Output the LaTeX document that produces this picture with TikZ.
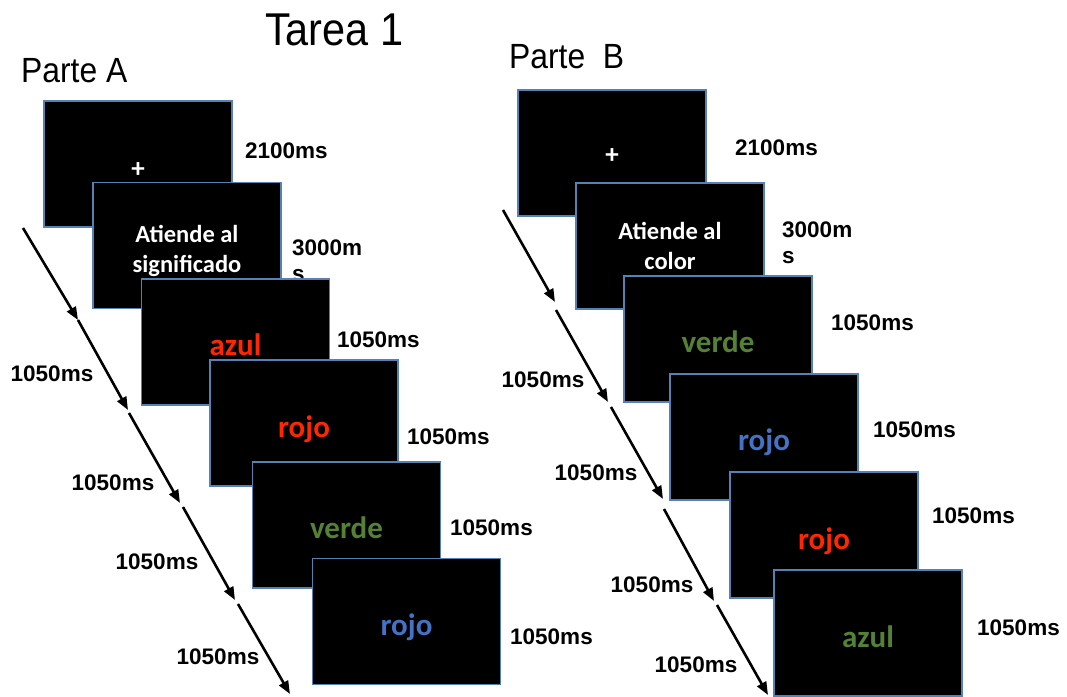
\documentclass[tikz,border=0pt]{standalone}
\usepackage{fontspec}
\setmainfont{Liberation Sans}
\newfontfamily\carl{Carlito}
\usetikzlibrary{arrows.meta}
\definecolor{boxblue}{RGB}{84,130,180}
\definecolor{wred}{RGB}{255,38,0}
\definecolor{wgreen}{RGB}{84,130,53}
\definecolor{wblue}{RGB}{68,114,196}
\newcommand{\lowr}[2]{\raisebox{-#1pt}[\height][\depth]{#2}}
\begin{document}
\begin{tikzpicture}[x=1pt,y=-1pt,
  screen/.style={fill=black, draw=boxblue, line width=1.8pt, minimum width=188pt, minimum height=126pt,
    inner sep=0pt, align=center, font=\carl\bfseries\fontsize{31}{34}\selectfont},
  instr/.style={text=white, font=\carl\bfseries\fontsize{24.5}{30}\selectfont},
  fix/.style={text=white, font=\carl\bfseries\fontsize{27}{30}\selectfont},
  dur/.style={font=\bfseries\fontsize{22.5}{26}\selectfont, inner sep=0pt, align=left},
  timearrow/.style={line width=2.6pt, -{Triangle[length=13pt,width=10pt]}},
  heading/.style={anchor=base west, inner sep=0pt, xscale=0.91, font=\fontsize{35}{40}\selectfont}]
\useasboundingbox (0,0) rectangle (1067,696);
\clip (0,0) rectangle (1067,696);

% titles
\node[heading, xscale=0.99, font=\fontsize{46}{50}\selectfont] (tarea) at (265,45) {Tarea 1};
\node[heading] (partA) at (21,82) {Parte A};
\node[heading] (partB) at (509,68) {Parte\ \ B};

% ---------- Parte A ----------
\node[screen, fix] (a1) at (138,164) {\lowr{6}{+}};
\node[dur, anchor=west] (da1) at (245,151) {2100ms};
\node[screen, instr] (a2) at (187,245.5) {\lowr{6}{\begin{tabular}{@{}c@{}}Atiende al\\significado\end{tabular}}};
\node[dur, anchor=north west] (da2) at (292,240) {3000m\\s};
\node[screen, text=wred] (a3) at (235.5,342) {\lowr{3}{azul}};
\node[dur, anchor=west] (da3) at (337,340) {1050ms};
\node[screen, text=wred] (a4) at (304,423) {\lowr{6}{rojo}};
\node[dur, anchor=west] (da4) at (407,437) {1050ms};
\node[screen, text=wgreen] (a5) at (346.5,525) {\lowr{3}{verde}};
\node[dur, anchor=west] (da5) at (450,528) {1050ms};
\node[screen, text=wblue] (a6) at (406.5,621.5) {\lowr{6}{rojo}};
\node[dur, anchor=west] (da6) at (510,637) {1050ms};

% time arrows A
\coordinate (la0) at (23,228);
\coordinate (la1) at (78,320);
\coordinate (la2) at (128,410);
\coordinate (lb2) at (129,413);
\coordinate (la3) at (180,503);
\coordinate (lb3) at (183,507);
\coordinate (la4) at (235,600);
\coordinate (lb4) at (238,604);
\coordinate (la5) at (290,694);
\draw[timearrow] (la0) -- (la1);
\draw[timearrow] (la1) -- (la2);
\draw[timearrow] (lb2) -- (la3);
\draw[timearrow] (lb3) -- (la4);
\draw[timearrow] (lb4) -- (la5);
\node[dur] (ta1) at (52,374) {1050ms};
\node[dur] (ta2) at (113,483) {1050ms};
\node[dur] (ta3) at (157,562) {1050ms};
\node[dur] (ta4) at (218,657) {1050ms};

% ---------- Parte B ----------
\node[screen, fix] (b1) at (612,153) {\lowr{3}{+}};
\node[dur, anchor=west] (db1) at (735,148) {2100ms};
\node[screen, instr] (b2) at (670,246) {\lowr{2}{\begin{tabular}{@{}c@{}}Atiende al\\color\end{tabular}}};
\node[dur, anchor=north west] (db2) at (782,222) {3000m\\s};
\node[screen, text=wgreen] (b3) at (718,339) {\lowr{3}{verde}};
\node[dur, anchor=west] (db3) at (831,323) {1050ms};
\node[screen, text=wblue] (b4) at (764,437) {\lowr{5}{rojo}};
\node[dur, anchor=west] (db4) at (873,430) {1050ms};
\node[screen, text=wred] (b5) at (824,535) {\lowr{6}{rojo}};
\node[dur, anchor=west] (db5) at (932,516) {1050ms};
\node[screen, text=wgreen] (b6) at (868,633) {\lowr{4}{azul}};
\node[dur, anchor=west] (db6) at (977,628) {1050ms};

% time arrows B
\coordinate (ra0) at (503,210);
\coordinate (ra1) at (555,302);
\coordinate (rb1) at (556,310);
\coordinate (ra2) at (608,402);
\coordinate (rb2) at (611,407);
\coordinate (ra3) at (663,499);
\coordinate (rb3) at (664,509);
\coordinate (ra4) at (714,601);
\coordinate (rb4) at (717,605);
\coordinate (ra5) at (768,695);
\draw[timearrow] (ra0) -- (ra1);
\draw[timearrow] (rb1) -- (ra2);
\draw[timearrow] (rb2) -- (ra3);
\draw[timearrow] (rb3) -- (ra4);
\draw[timearrow] (rb4) -- (ra5);
\node[dur] (tb1) at (543,380) {1050ms};
\node[dur] (tb2) at (596,473) {1050ms};
\node[dur] (tb3) at (652,585) {1050ms};
\node[dur] (tb4) at (696,665) {1050ms};
\end{tikzpicture}
\end{document}
